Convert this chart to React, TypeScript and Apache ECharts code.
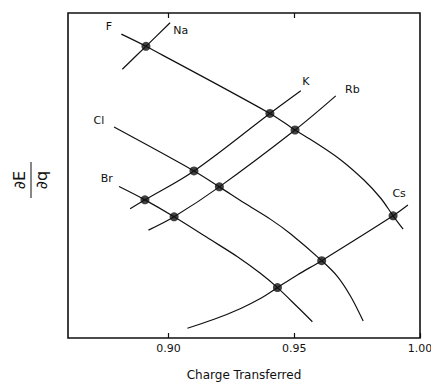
import React, { useEffect, useRef } from "react";
import * as echarts from "echarts";

// Charge transferred (x) vs dE/dq (arbitrary units, y) for alkali halides.
// Each curve is a family of constant halide (F, Cl, Br) or constant alkali (Na, K, Rb, Cs).
type Pt = [number, number];

const xTicks = [0.9, 0.95, 1.0];

const fLine: Pt[] = [
  [0.8812, 93.5], [0.891, 89.75], [0.9403, 69.1], [0.9503, 64.0], [0.9579, 60.4],
  [0.9685, 54.8], [0.9777, 48.6], [0.9844, 43.0], [0.9893, 37.6], [0.9933, 33.5],
];
const clLine: Pt[] = [
  [0.8783, 64.9], [0.9101, 51.4], [0.9202, 46.5], [0.93, 41.6], [0.9406, 36.5],
  [0.9486, 32.0], [0.9609, 23.8], [0.9672, 18.9], [0.9725, 12.7], [0.9774, 5.2],
];
const brLine: Pt[] = [
  [0.8803, 46.6], [0.8906, 42.5], [0.9022, 37.3], [0.9168, 30.2], [0.9274, 25.0],
  [0.9365, 19.9], [0.9433, 15.5], [0.9512, 9.6], [0.9572, 5.0],
];
const naLine: Pt[] = [[0.8816, 82.7], [0.891, 89.75], [0.9006, 97.0]];
const kLine: Pt[] = [[0.8847, 39.8], [0.8906, 42.5], [0.9101, 51.4], [0.9403, 69.1], [0.9526, 76.1]];
const rbLine: Pt[] = [[0.892, 33.2], [0.9022, 37.3], [0.9202, 46.5], [0.9503, 64.0], [0.9665, 74.5]];
const csLine: Pt[] = [
  [0.9075, 3.0], [0.9181, 5.75], [0.9287, 9.1], [0.9367, 12.2], [0.9433, 15.5],
  [0.9512, 19.4], [0.9609, 23.8], [0.9893, 37.6], [0.9952, 40.9],
];

// Measured compounds (intersections of the families)
const compounds: Pt[] = [
  [0.891, 89.75], [0.9403, 69.1], [0.9503, 64.0], [0.9893, 37.6],
  [0.9101, 51.4], [0.9202, 46.5], [0.9609, 23.8],
  [0.8906, 42.5], [0.9022, 37.3], [0.9433, 15.5],
];

const ionNames = ["F", "Na", "K", "Rb", "Cl", "Br", "Cs"];
const ionLabelAt: Pt[] = [
  [0.8763, 95.8], [0.9048, 94.6], [0.9546, 78.8], [0.9731, 76.6],
  [0.8723, 66.9], [0.8754, 49.1], [0.9917, 44.5],
];

const FONT = "DejaVu Sans";
const INK = "#111";

export default function App() {
  const ref = useRef<HTMLDivElement>(null);

  useEffect(() => {
    if (!ref.current) return;
    const chart = echarts.init(ref.current, undefined, { renderer: "svg" });

    const curve = (data: Pt[]) => ({
      type: "line",
      data,
      smooth: 0.35,
      showSymbol: false,
      silent: true,
      lineStyle: { color: INK, width: 1.2 },
    });

    const xCommon = {
      type: "value",
      min: 0.86,
      max: 1.0,
      splitLine: { show: false },
      axisLine: { show: false },
    };

    // Rotated fraction dE/dq used as the y-axis title
    const yTitle = {
      type: "group",
      x: 31,
      y: 180,
      rotation: Math.PI / 2,
      children: [
        {
          type: "text",
          x: 0,
          y: -4,
          style: { text: "∂E", font: `16px "${FONT}"`, fill: INK, align: "center", verticalAlign: "bottom" },
        },
        {
          type: "line",
          shape: { x1: -18, y1: 0, x2: 18, y2: 0 },
          style: { stroke: INK, lineWidth: 1 },
        },
        {
          type: "text",
          x: 0,
          y: 2,
          style: { text: "∂q", font: `16px "${FONT}"`, fill: INK, align: "center", verticalAlign: "top" },
        },
      ],
    };

    chart.setOption({
      animation: false,
      backgroundColor: "#fff",
      grid: {
        left: 68,
        right: 11,
        top: 13,
        bottom: 45,
        show: true,
        borderColor: INK,
        borderWidth: 1.6,
        outerBoundsMode: "none",
        containLabel: false,
      },
      xAxis: [
        {
          ...xCommon,
          position: "bottom",
          name: "Charge Transferred",
          nameLocation: "middle",
          nameGap: 31,
          nameTextStyle: { fontFamily: FONT, fontSize: 12, color: INK },
          axisTick: { show: true, inside: true, length: 5, customValues: xTicks, lineStyle: { color: INK, width: 1.2 } },
          axisLabel: {
            show: true,
            margin: 5,
            customValues: xTicks,
            formatter: (v: number) => v.toFixed(2),
            fontFamily: FONT,
            fontSize: 11,
            color: INK,
          },
        },
        {
          ...xCommon,
          position: "top",
          axisTick: { show: true, inside: true, length: 5, customValues: [0.9, 0.95], lineStyle: { color: INK, width: 1.2 } },
          axisLabel: { show: false },
        },
      ],
      yAxis: {
        type: "value",
        min: 0,
        max: 100,
        axisLine: { show: false },
        axisTick: { show: false },
        axisLabel: { show: false },
        splitLine: { show: false },
      },
      series: [
        curve(fLine),
        curve(clLine),
        curve(brLine),
        curve(naLine),
        curve(kLine),
        curve(rbLine),
        curve(csLine),
        {
          type: "scatter",
          data: compounds,
          symbol: "circle",
          symbolSize: 9,
          silent: true,
          itemStyle: { color: INK },
          z: 5,
        },
      ],
      graphic: [yTitle],
    });

    // Ion names placed through the grid's own coordinate conversion
    const ionTexts = ionLabelAt.map((p, i) => {
      const [px, py] = chart.convertToPixel({ gridIndex: 0 }, p) as number[];
      return {
        type: "text",
        x: px,
        y: py,
        style: {
          text: ionNames[i],
          font: `11px "${FONT}"`,
          fill: INK,
          align: "center",
          verticalAlign: "middle",
        },
      };
    });
    chart.setOption({ graphic: [yTitle, ...ionTexts] }, { replaceMerge: ["graphic"] });

    return () => chart.dispose();
  }, []);

  return (
    <div
      ref={ref}
      style={{ position: "absolute", left: 0, top: 0, width: 431, height: 383, background: "#fff" }}
    />
  );
}
